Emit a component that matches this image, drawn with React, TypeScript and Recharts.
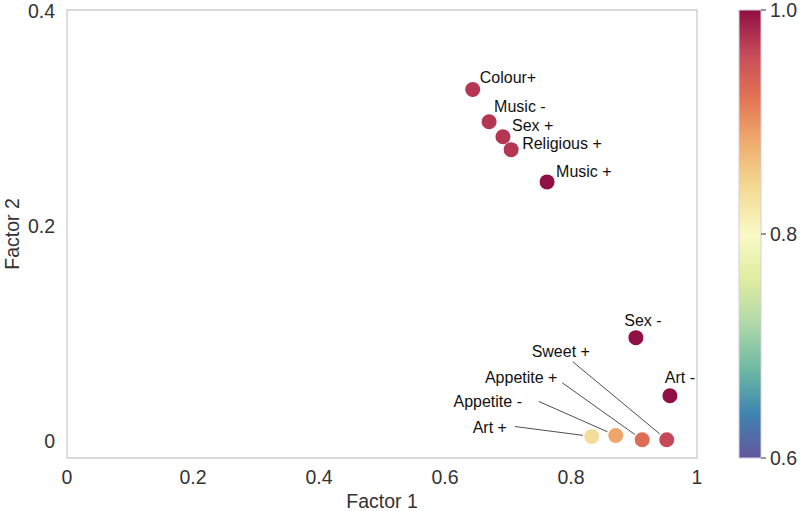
import React from 'react';
import { ScatterChart, Scatter, XAxis, YAxis, ReferenceArea, Cell } from 'recharts';

const NAMES = ['Colour+', 'Music -', 'Sex +', 'Religious +', 'Music +', 'Sex -', 'Art -', 'Sweet +', 'Appetite +', 'Appetite -', 'Art +'];
const FACTOR1 = [0.644, 0.67, 0.692, 0.705, 0.762, 0.903, 0.957, 0.952, 0.913, 0.871, 0.833];
const FACTOR2 = [0.327, 0.297, 0.283, 0.271, 0.241, 0.096, 0.042, 0.001, 0.001, 0.005, 0.004];
const SCORE = [0.974, 0.974, 0.974, 0.974, 1.0, 1.0, 1.0, 0.962, 0.93, 0.886, 0.838];

const X_TICKS = [0, 0.2, 0.4, 0.6, 0.8, 1];
const Y_TICKS = [0, 0.2, 0.4];
const CBAR_TICKS = [0.6, 0.8, 1.0];
const CBAR_MIN = 0.6;
const CBAR_MAX = 1.0;

// label placement in px relative to the marker (text centre, optional leader start)
const LABEL_LAYOUT: { dx: number; dy: number; anchor: 'start' | 'middle'; lx?: number; ly?: number }[] = [
  { dx: 7, dy: -12, anchor: 'start' },
  { dx: 5, dy: -15, anchor: 'start' },
  { dx: 9, dy: -11, anchor: 'start' },
  { dx: 11, dy: -6, anchor: 'start' },
  { dx: 9, dy: -10, anchor: 'start' },
  { dx: 7, dy: -17, anchor: 'middle' },
  { dx: 10, dy: -18, anchor: 'middle' },
  { dx: -106, dy: -88, anchor: 'middle', lx: -94, ly: -78 },
  { dx: -121, dy: -62, anchor: 'middle', lx: -80, ly: -57 },
  { dx: -128, dy: -34, anchor: 'middle', lx: -77, ly: -34 },
  { dx: -102, dy: -9, anchor: 'middle', lx: -77, ly: -10 },
];

const SPECTRAL = ['#9e0142', '#d53e4f', '#f46d43', '#fdae61', '#fee08b', '#ffffbf', '#e6f598', '#abdda4', '#66c2a5', '#3288bd', '#5e4fa2'];
const DESAT = 0.82;

function hex(c: string) {
  return [1, 3, 5].map((i) => parseInt(c.slice(i, i + 2), 16));
}

// pull saturation down a bit, keeping lightness
function desat(rgb: number[]) {
  const [r, g, b] = rgb.map((v) => v / 255);
  const mx = Math.max(r, g, b);
  const mn = Math.min(r, g, b);
  const l = (mx + mn) / 2;
  return [r, g, b].map((v) => Math.round((l + (v - l) * DESAT) * 255));
}

// reversed Spectral: CBAR_MAX -> dark red, CBAR_MIN -> purple
function scoreColor(v: number) {
  const s = Math.min(1, Math.max(0, (CBAR_MAX - v) / (CBAR_MAX - CBAR_MIN))) * 10;
  const i = Math.min(9, Math.floor(s));
  const t = s - i;
  const a = hex(SPECTRAL[i]);
  const b = hex(SPECTRAL[i + 1]);
  const rgb = a.map((ch, k) => ch + (b[k] - ch) * t);
  return `rgb(${desat(rgb).join(',')})`;
}

const data = NAMES.map((name, i) => ({ name, x: FACTOR1[i], y: FACTOR2[i], score: SCORE[i], idx: i }));

const FONT = '"Liberation Sans", Arial, sans-serif';
const TICK = { fill: '#333', fontSize: 19.5, fontFamily: FONT };

function PointShape(props: any) {
  const { cx, cy, payload, fill } = props;
  const lay = LABEL_LAYOUT[payload.idx];
  let leader = null;
  if (lay.lx !== undefined && lay.ly !== undefined) {
    const x1 = cx + lay.lx;
    const y1 = cy + lay.ly;
    const len = Math.hypot(cx - x1, cy - y1);
    const x2 = cx - ((cx - x1) / len) * 9;
    const y2 = cy - ((cy - y1) / len) * 9;
    leader = <line x1={x1} y1={y1} x2={x2} y2={y2} stroke="#222" strokeWidth={0.8} />;
  }
  return (
    <g>
      <circle cx={cx} cy={cy} r={7.5} fill={fill} />
      {leader}
      <text x={cx + lay.dx} y={cy + lay.dy} dy="0.35em" textAnchor={lay.anchor} fontSize={16} fontFamily={FONT} fill="#111">
        {payload.name}
      </text>
    </g>
  );
}

function ColorBar() {
  const x = 739;
  const top = 10;
  const h = 448;
  const w = 22;
  const toY = (v: number) => top + ((CBAR_MAX - v) / (CBAR_MAX - CBAR_MIN)) * h;
  return (
    <svg width={800} height={511} style={{ position: 'absolute', left: 0, top: 0, pointerEvents: 'none' }}>
      <defs>
        <linearGradient id="cbar" x1="0" y1="0" x2="0" y2="1">
          {SPECTRAL.map((c, i) => (
            <stop key={i} offset={`${i * 10}%`} stopColor={`rgb(${desat(hex(c)).join(',')})`} />
          ))}
        </linearGradient>
      </defs>
      <rect x={x} y={top} width={w} height={h} fill="url(#cbar)" stroke="#d4d0dc" strokeWidth={1} />
      {CBAR_TICKS.map((v) => (
        <g key={v}>
          <line x1={x + w} x2={x + w + 5} y1={toY(v)} y2={toY(v)} stroke="#333" strokeWidth={1} />
          <text x={x + w + 9} y={toY(v)} dy="0.35em" {...TICK}>
            {v.toFixed(1)}
          </text>
        </g>
      ))}
    </svg>
  );
}

export default function App() {
  return (
    <div style={{ position: 'absolute', left: 0, top: 0, width: 800, height: 511, background: '#fff', fontFamily: FONT }}>
      <ScatterChart width={800} height={511} margin={{ top: 10, right: 103, bottom: 0, left: 0 }}>
        <XAxis
          type="number"
          dataKey="x"
          domain={[0, 1]}
          ticks={X_TICKS}
          axisLine={false}
          tickLine={false}
          tickMargin={6}
          height={53}
          tick={TICK}
          label={{
            content: ({ viewBox }: any) => (
              <text x={viewBox.x + viewBox.width / 2} y={501} dy="0.35em" textAnchor="middle" fontSize={19.5} fontFamily={FONT} fill="#333">
                Factor 1
              </text>
            ),
          }}
        />
        <YAxis
          type="number"
          dataKey="y"
          domain={[-0.016, 0.401]}
          ticks={Y_TICKS}
          axisLine={false}
          tickLine={false}
          tickMargin={6}
          width={67}
          tick={TICK}
          label={{
            content: ({ viewBox }: any) => {
              const cy = viewBox.y + viewBox.height / 2;
              return (
                <text x={12} y={cy} dy="0.35em" textAnchor="middle" transform={`rotate(-90 12 ${cy})`} fontSize={19.5} fontFamily={FONT} fill="#333">
                  Factor 2
                </text>
              );
            },
          }}
        />
        <ReferenceArea x1={0} x2={1} y1={-0.016} y2={0.401} fill="none" stroke="#cccccc" strokeWidth={1.3} />
        <Scatter data={data} isAnimationActive={false} shape={PointShape}>
          {data.map((d, i) => (
            <Cell key={`cell-${i}`} fill={scoreColor(d.score)} />
          ))}
        </Scatter>
      </ScatterChart>
      <ColorBar />
    </div>
  );
}
